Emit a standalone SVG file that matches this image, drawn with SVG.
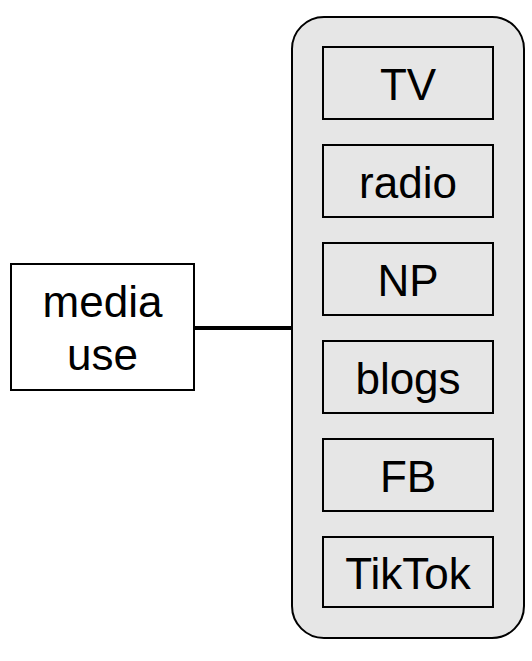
<svg xmlns="http://www.w3.org/2000/svg" width="532" height="661" viewBox="0 0 532 661">
<style>
text{font-family:"Liberation Sans",Arial,sans-serif;font-size:44px;fill:#000;text-anchor:middle}
.item{fill:#e6e6e6;stroke:#000;stroke-width:2}
</style>
<rect width="532" height="661" fill="#fff"/>
<g id="connectors">
<line x1="194" y1="328" x2="292" y2="328" stroke="#000" stroke-width="4"/>
</g>
<g id="media-use">
<rect x="11" y="264" width="183" height="126" fill="#fff" stroke="#000" stroke-width="2"/>
<text x="102.5" y="317">media</text>
<text x="102.5" y="370">use</text>
</g>
<g id="media-group">
<rect x="292" y="17" width="232" height="621" rx="32" ry="32" fill="#e6e6e6" stroke="#000" stroke-width="2"/>
</g>
<g id="tv"><rect class="item" x="323" y="47" width="170" height="72"/><text x="408" y="100">TV</text></g>
<g id="radio"><rect class="item" x="323" y="145" width="170" height="72"/><text x="408" y="198">radio</text></g>
<g id="np"><rect class="item" x="323" y="243" width="170" height="72"/><text x="408" y="296">NP</text></g>
<g id="blogs"><rect class="item" x="323" y="341" width="170" height="72"/><text x="408" y="394">blogs</text></g>
<g id="fb"><rect class="item" x="323" y="439" width="170" height="72"/><text x="408" y="492">FB</text></g>
<g id="tiktok"><rect class="item" x="323" y="537" width="170" height="70"/><text x="408" y="589">TikTok</text></g>
</svg>
